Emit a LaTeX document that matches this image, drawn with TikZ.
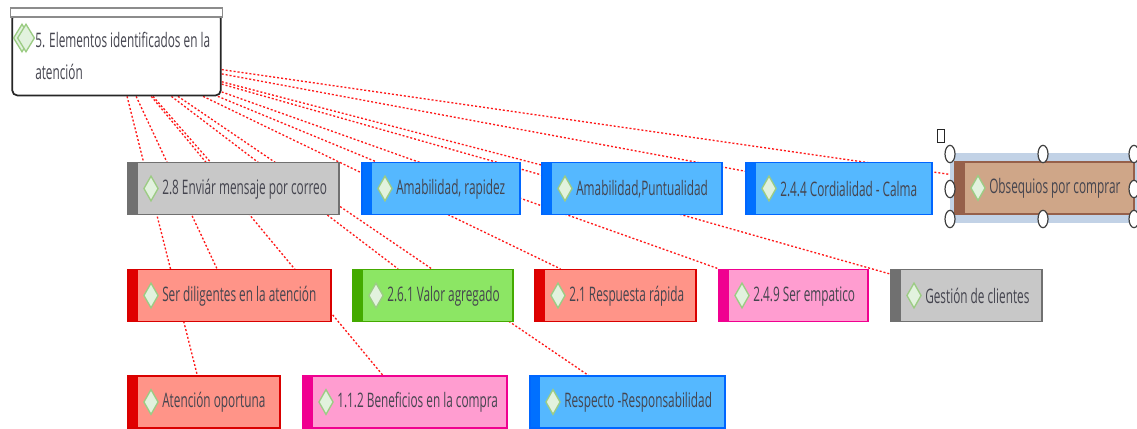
\documentclass[tikz,border=0pt]{standalone}
\usepackage{fontspec}
\setmainfont[FakeStretch=0.59]{Open Sans}
\usetikzlibrary{shapes.geometric,backgrounds}
\definecolor{inktext}{HTML}{45454F}
\tikzset{
  tagbox/.style={rectangle,draw=#1,line width=0.9pt,minimum height=39pt,inner sep=0pt},
  tagbar/.style={path picture={\fill[#1] (path picture bounding box.north west) rectangle ([xshift=7.5pt]path picture bounding box.south west);}},
  tagblue/.style={tagbox=blue!60!cyan,fill=tagbluefill,tagbar=tagbluebar},
  tagred/.style={tagbox=red!85!black,fill=tagredfill,tagbar=tagredbar},
  tagpink/.style={tagbox=tagpinkbar,fill=tagpinkfill,tagbar=tagpinkbar},
  taggreen/.style={tagbox=taggreenbar,fill=taggreenfill,tagbar=taggreenbar},
  taggray/.style={tagbox=taggraybar,fill=taggrayfill,tagbar=taggraybar},
  tagbrown/.style={tagbox=tagbrownbar,fill=tagbrownfill,tagbar=tagbrownbar},
  tagtext/.style={text=inktext,font=\fontsize{15}{18}\selectfont,inner sep=0pt,anchor=west,yshift=-0.5pt},
  tagmark/.style={diamond,draw=tagmarkline,fill=tagmarkfill,line width=1pt,inner sep=0pt,minimum width=11pt,minimum height=19pt,aspect=0.55},
  linkline/.style={red!90!white,line width=1pt,dash pattern=on 1.5pt off 1.5pt},
  grip/.style={ellipse,draw=black!75,fill=white,line width=0.9pt,inner sep=0pt,minimum width=7.5pt,minimum height=13pt},
}
\definecolor{tagbluefill}{HTML}{55B8FF}\definecolor{tagbluebar}{HTML}{0070FF}
\definecolor{tagredfill}{HTML}{FF9488}\definecolor{tagredbar}{HTML}{E00000}
\definecolor{tagpinkfill}{HTML}{FF9DD0}\definecolor{tagpinkbar}{HTML}{F00090}
\definecolor{taggreenfill}{HTML}{8CE664}\definecolor{taggreenbar}{HTML}{44AA00}
\definecolor{taggrayfill}{HTML}{C8C8C8}\definecolor{taggraybar}{HTML}{707070}
\definecolor{tagbrownfill}{HTML}{CFA688}\definecolor{tagbrownbar}{HTML}{96604A}
\definecolor{tagmarkline}{HTML}{9CCC84}\definecolor{tagmarkfill}{HTML}{E2F2DE}
\definecolor{selectblue}{HTML}{C2D2E6}
\begin{document}
\begin{tikzpicture}[x=0.75pt,y=-0.75pt]
\useasboundingbox (0,0) rectangle (1137,428);

% selection behind the brown box
\node[rectangle,fill=selectblue,minimum width=140.25pt,minimum height=52.5pt,inner sep=0pt] (picked) at (1043.5,187.5) {};

% root
\node[rectangle,rounded corners=4pt,draw=black!85,fill=white,line width=1.3pt,minimum width=156.5pt,minimum height=61.5pt,inner sep=0pt] (root) at (116.5,54.5) {};
\node[rectangle,draw=black!45,fill=white,line width=1.2pt,minimum width=159pt,minimum height=6.5pt,inner sep=0pt] (rootcap) at (116.5,12.5) {};
\node[tagmark,minimum width=13pt,minimum height=21pt] (rootmarka) at (22,38) {};
\node[tagmark,minimum width=13pt,minimum height=21pt] (rootmarkb) at (26,38) {};
\node[tagtext] (roottexta) at (35,39) {5. Elementos identificados en la};
\node[tagtext] (roottextb) at (35,71) {atención};

\foreach \n/\xa/\xb/\ym/\tone/\txt in {
  envio/128/339/188.5/taggray/{2.8 Enviár mensaje por correo},
  rapidez/362/520/188.5/tagblue/{Amabilidad, rapidez},
  puntual/542/722/188.5/tagblue/{Amabilidad,Puntualidad},
  calma/746/932/188.5/tagblue/{2.4.4 Cordialidad - Calma},
  obsequio/955/1134/188/tagbrown/{Obsequios por comprar},
  diligente/128/331/295.5/tagred/{Ser diligentes en la atención},
  valor/353/513/295.5/taggreen/{2.6.1 Valor agregado},
  respuesta/535/696/295.5/tagred/{2.1 Respuesta rápida},
  empatico/719/868/295.5/tagpink/{2.4.9 Ser empatico},
  gestion/891/1042/295.5/taggray/{Gestión de clientes},
  oportuna/128/280/402/tagred/{Atención oportuna},
  beneficio/303/507/402/tagpink/{1.1.2 Beneficios en la compra},
  respecto/530/725/402/tagblue/{Respecto -Responsabilidad}}
{
  \node[\tone,minimum width={(\xb-\xa)*0.75pt}] (\n) at ({(\xa+\xb)/2},\ym) {};
  \node[tagmark] (mark\n) at ({\xa+23},\ym) {};
  \node[tagtext] (text\n) at ({\xa+34},\ym) {\txt};
}

% links run under the boxes
\begin{pgfonlayer}{background}
\foreach \n in {envio,rapidez,puntual,calma,obsequio,diligente,valor,respuesta,empatico,gestion,oportuna,beneficio,respecto}
  \draw[linkline] (root) -- (\n);
\end{pgfonlayer}

% handles
\foreach \gx in {950,1043,1134} {
  \node[grip] (grip\gx a) at (\gx,154) {};
  \node[grip] (grip\gx c) at (\gx,219) {};
}
\foreach \gx in {950,1134} \node[grip] (grip\gx b) at (\gx,189) {};
\node[rectangle,draw=black!85,fill=white,line width=1pt,minimum width=5.5pt,minimum height=10pt,inner sep=0pt] (turn) at (941,136) {};
\end{tikzpicture}
\end{document}
